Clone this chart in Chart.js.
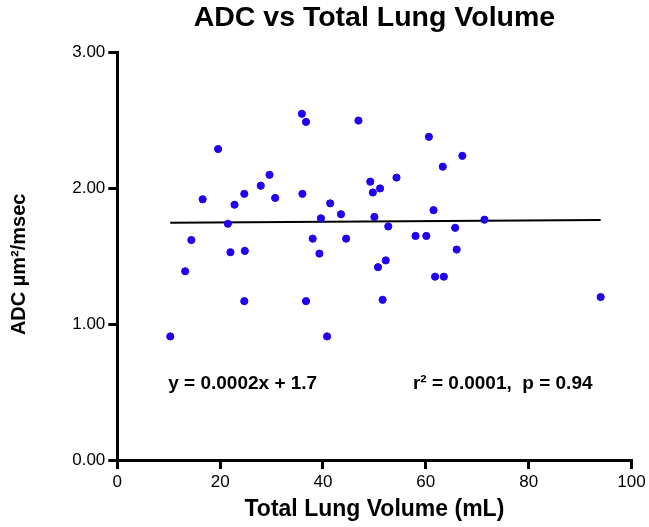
<!DOCTYPE html>
<html>
<head>
<meta charset="utf-8">
<script src="https://cdn.jsdelivr.net/npm/chart.js@4"></script>
<style>
  html, body { margin: 0; padding: 0; background: #fff; }
  #wrap { width: 649px; height: 527px; }
</style>
</head>
<body>
<div id="wrap"><canvas id="adcChart" width="649" height="527"></canvas></div>
<script>
// Values: total lung volume (mL) and ADC (um2/msec).
const lungVolume = [10.3, 13.2, 14.4, 16.6, 19.6, 21.5, 22.0, 22.8, 24.7, 24.8,
  24.7, 27.9, 29.6, 30.7, 35.9, 36.7, 36.0, 36.7, 38.0, 39.3,
  39.6, 40.8, 41.4, 43.5, 44.5, 46.9, 49.2, 49.7, 50.0, 51.1,
  50.7, 51.6, 52.2, 52.7, 54.3, 58.0, 60.1, 60.6, 61.5, 61.8,
  63.5, 63.3, 65.7, 66.0, 67.1, 71.4, 94.0];
const adcValues = [0.91, 1.39, 1.62, 1.92, 2.29, 1.74, 1.53, 1.88, 1.96, 1.54,
  1.17, 2.02, 2.10, 1.93, 2.55, 2.49, 1.96, 1.17, 1.63, 1.52,
  1.78, 0.91, 1.89, 1.81, 1.63, 2.50, 2.05, 1.97, 1.79, 2.00,
  1.42, 1.18, 1.47, 1.72, 2.08, 1.65, 1.65, 2.38, 1.84, 1.35,
  1.35, 2.16, 1.71, 1.55, 2.24, 1.77, 1.20];

// Fit line as drawn (label shows the rounded version).
const fitSlope = 0.00024;
const fitIntercept = 1.745;

const xTicks = [0, 20, 40, 60, 80, 100];
const yTicks = [0, 1, 2, 3];

const annotations = [
  { text: 'y = 0.0002x + 1.7', x: 9.9, y: 0.56 },
  { text: 'r\u00B2 = 0.0001,  p = 0.94', x: 57.5, y: 0.56 }
];

const yTitle = 'ADC \u00B5m\u00B2/msec';

const FONT = '"Liberation Sans", Arial, Helvetica, sans-serif';

let points = [];
for (let i = 0; i < lungVolume.length; i++) {
  points.push({ x: lungVolume[i], y: adcValues[i] });
}

const xMin = Math.min(...lungVolume);
const xMax = Math.max(...lungVolume);
const fitLine = [
  { x: xMin, y: fitIntercept + fitSlope * xMin },
  { x: xMax, y: fitIntercept + fitSlope * xMax }
];

// Writes the regression text inside the plot, and the y axis title
// (it sits a bit below the middle of the axis in the original).
const annotationPlugin = {
  id: 'fitText',
  afterDatasetsDraw(chart) {
    const ctx = chart.ctx;
    const xs = chart.scales.x, ys = chart.scales.y;
    ctx.save();
    ctx.fillStyle = '#000';
    ctx.font = 'bold 19px ' + FONT;
    ctx.textAlign = 'left';
    ctx.textBaseline = 'middle';
    annotations.forEach(function (a) {
      ctx.fillText(a.text, xs.getPixelForValue(a.x), ys.getPixelForValue(a.y));
    });

    let midY = (chart.chartArea.top + chart.chartArea.bottom) / 2 + 8;
    ctx.translate(19, midY);
    ctx.rotate(-Math.PI / 2);
    ctx.font = 'bold 20px ' + FONT;
    ctx.textAlign = 'center';
    ctx.fillText(yTitle, 0, 0);
    ctx.restore();
  }
};

const axisGrid = {
  display: true,
  drawOnChartArea: false,
  drawTicks: true,
  tickLength: 9,
  color: '#000',
  lineWidth: 3
};

new Chart(document.getElementById('adcChart').getContext('2d'), {
  type: 'scatter',
  data: {
    datasets: [
      {
        data: points,
        backgroundColor: '#2000f0',
        borderColor: '#2000f0',
        pointRadius: 3.6,
        pointHoverRadius: 3.6,
        order: 1
      },
      {
        type: 'line',
        data: fitLine,
        borderColor: '#000',
        borderWidth: 2,
        pointRadius: 0,
        showLine: true,
        fill: false,
        order: 2
      }
    ]
  },
  options: {
    responsive: false,
    animation: false,
    events: [],
    layout: { padding: { left: 0, right: 17.5, top: 0, bottom: 0 } },
    plugins: {
      legend: { display: false },
      tooltip: { enabled: false },
      title: {
        display: true,
        text: 'ADC vs Total Lung Volume',
        fullSize: false,
        color: '#000',
        font: { family: FONT, size: 28.5, weight: 'bold', lineHeight: 0.9 },
        padding: { top: 5, bottom: 22 }
      }
    },
    scales: {
      x: {
        type: 'linear',
        min: 0,
        max: 100,
        afterBuildTicks: function (axis) {
          axis.ticks = xTicks.map(v => ({ value: v }));
        },
        afterFit: function (axis) { axis.height = 67; },
        grid: axisGrid,
        border: { display: true, color: '#000', width: 3 },
        ticks: {
          color: '#000',
          padding: 3,
          maxRotation: 0,
          font: { family: FONT, size: 17 }
        },
        title: {
          display: true,
          text: 'Total Lung Volume (mL)',
          color: '#000',
          font: { family: FONT, size: 23, weight: 'bold', lineHeight: 1.2 },
          padding: { top: 0, bottom: 4 }
        }
      },
      y: {
        type: 'linear',
        min: 0,
        max: 3,
        afterBuildTicks: function (axis) {
          axis.ticks = yTicks.map(v => ({ value: v }));
        },
        afterFit: function (axis) { axis.width = 117.3; },
        grid: axisGrid,
        border: { display: true, color: '#000', width: 3 },
        ticks: {
          color: '#000',
          padding: 3,
          font: { family: FONT, size: 17 },
          callback: function (v) { return Number(v).toFixed(2); }
        },
        title: { display: false }
      }
    }
  },
  plugins: [annotationPlugin]
});
</script>
</body>
</html>
